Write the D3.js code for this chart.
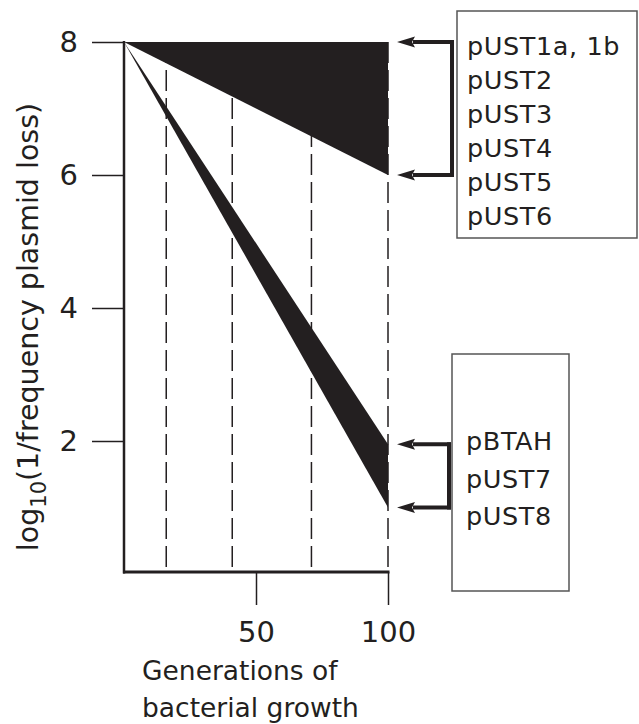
<!DOCTYPE html>
<html><head><meta charset="utf-8">
<script src="https://cdn.jsdelivr.net/npm/d3@7/dist/d3.min.js"></script>
<style>body{margin:0;background:#fff}svg{display:block}text{font-family:"DejaVu Sans",Verdana,sans-serif;fill:#231f20}</style>
</head><body><svg id="c" width="639" height="724"></svg>
<script>
// data
const generations = [0, 100];
const stableUpper = [8, 8];
const stableLower = [8, 6];
const unstableUpper = [8, 1.95];
const unstableLower = [8, 1.0];
const dashedGenerations = [16, 41, 71, 100];
const yTickValues = [2, 4, 6, 8];
const xTickValues = [50, 100];
const stableLabels = ["pUST1a, 1b", "pUST2", "pUST3", "pUST4", "pUST5", "pUST6"];
const unstableLabels = ["pBTAH", "pUST7", "pUST8"];

const ink = "#231f20";
const svg = d3.select("#c");
const x = d3.scaleLinear().domain([0, 100]).range([124, 388]);
const y = d3.scaleLinear().domain([0, 8]).range([574, 42]);
const axisY = 572;

// dashed lines
svg.append("g").selectAll("line").data(dashedGenerations).join("line")
  .attr("x1", d => x(d)).attr("x2", d => x(d))
  .attr("y1", y(8)).attr("y2", axisY)
  .attr("stroke", ink).attr("stroke-width", 1.5).attr("stroke-dasharray", "21,7");

// wedges
const area = (lo, hi) => d3.area().x((d, i) => x(generations[i])).y0((d, i) => y(lo[i])).y1((d, i) => y(hi[i]))(generations);
svg.append("path").attr("d", area(stableLower, stableUpper)).attr("fill", ink);
svg.append("path").attr("d", area(unstableLower, unstableUpper)).attr("fill", ink);

// y axis
const yAxis = svg.append("g").attr("transform", "translate(124,0)")
  .call(d3.axisLeft(y).tickValues(yTickValues).tickSize(32).tickPadding(14).tickFormat(d3.format("d")));
yAxis.select(".domain").remove();
yAxis.selectAll(".tick line").attr("stroke", ink).attr("stroke-width", 1.5);
yAxis.selectAll(".tick text").attr("font-size", 29).attr("font-family", "DejaVu Sans").attr("fill", ink);
svg.append("line").attr("x1", 124).attr("x2", 124).attr("y1", y(8) - 1).attr("y2", axisY + 1.5)
  .attr("stroke", ink).attr("stroke-width", 2.5);

// x axis
const xAxis = svg.append("g").attr("transform", `translate(0,${axisY})`)
  .call(d3.axisBottom(x).tickValues(xTickValues).tickSize(33).tickPadding(16).tickFormat(d3.format("d")));
xAxis.select(".domain").remove();
xAxis.selectAll(".tick line").attr("stroke", ink).attr("stroke-width", 1.5);
xAxis.selectAll(".tick text").attr("font-size", 29).attr("font-family", "DejaVu Sans").attr("fill", ink);
svg.append("line").attr("x1", 123).attr("x2", x(100) + 1.5).attr("y1", axisY).attr("y2", axisY)
  .attr("stroke", ink).attr("stroke-width", 3);

// axis titles
const xt = svg.append("text").attr("font-size", 26.5);
xt.append("tspan").attr("x", 142).attr("y", 680).text("Generations of");
xt.append("tspan").attr("x", 142).attr("y", 717).text("bacterial growth");

const yt = svg.append("text").attr("font-size", 28.5)
  .attr("transform", "translate(38,327) rotate(-90)").attr("text-anchor", "middle");
yt.append("tspan").text("log");
yt.append("tspan").attr("font-size", 21).attr("dy", 8).text("10");
yt.append("tspan").attr("dy", -8).text("(1/frequency plasmid loss)");

// legend boxes
function bracket(topVal, botVal, bx) {
  const g = svg.append("g");
  const tip = 397, head = 18, hw = 5.5;
  [topVal, botVal].forEach(v => {
    const yy = y(v);
    g.append("line").attr("x1", tip + head - 2).attr("x2", bx + 2).attr("y1", yy).attr("y2", yy)
      .attr("stroke", ink).attr("stroke-width", 4);
    g.append("path").attr("d", `M${tip},${yy}L${tip + head},${yy - hw}L${tip + head - 3},${yy}L${tip + head},${yy + hw}Z`).attr("fill", ink);
  });
  g.append("line").attr("x1", bx).attr("x2", bx).attr("y1", y(topVal) - 2).attr("y2", y(botVal) + 2)
    .attr("stroke", ink).attr("stroke-width", 4);
}
bracket(stableUpper[1], stableLower[1], 452);
bracket(unstableUpper[1], unstableLower[1], 449);

svg.append("rect").attr("x", 457).attr("y", 11).attr("width", 180).attr("height", 227)
  .attr("fill", "none").attr("stroke", "#555").attr("stroke-width", 1.5);
svg.append("rect").attr("x", 452).attr("y", 354).attr("width", 117).attr("height", 237)
  .attr("fill", "none").attr("stroke", "#555").attr("stroke-width", 1.5);

svg.append("g").selectAll("text").data(stableLabels).join("text")
  .attr("x", 467).attr("y", (d, i) => 55 + i * 34).attr("font-size", 25.5).attr("letter-spacing", 0.6).text(d => d);
svg.append("g").selectAll("text").data(unstableLabels).join("text")
  .attr("x", 466).attr("y", (d, i) => 450 + i * 37.5).attr("font-size", 25.5).attr("letter-spacing", 0.6).text(d => d);
</script></body></html>
